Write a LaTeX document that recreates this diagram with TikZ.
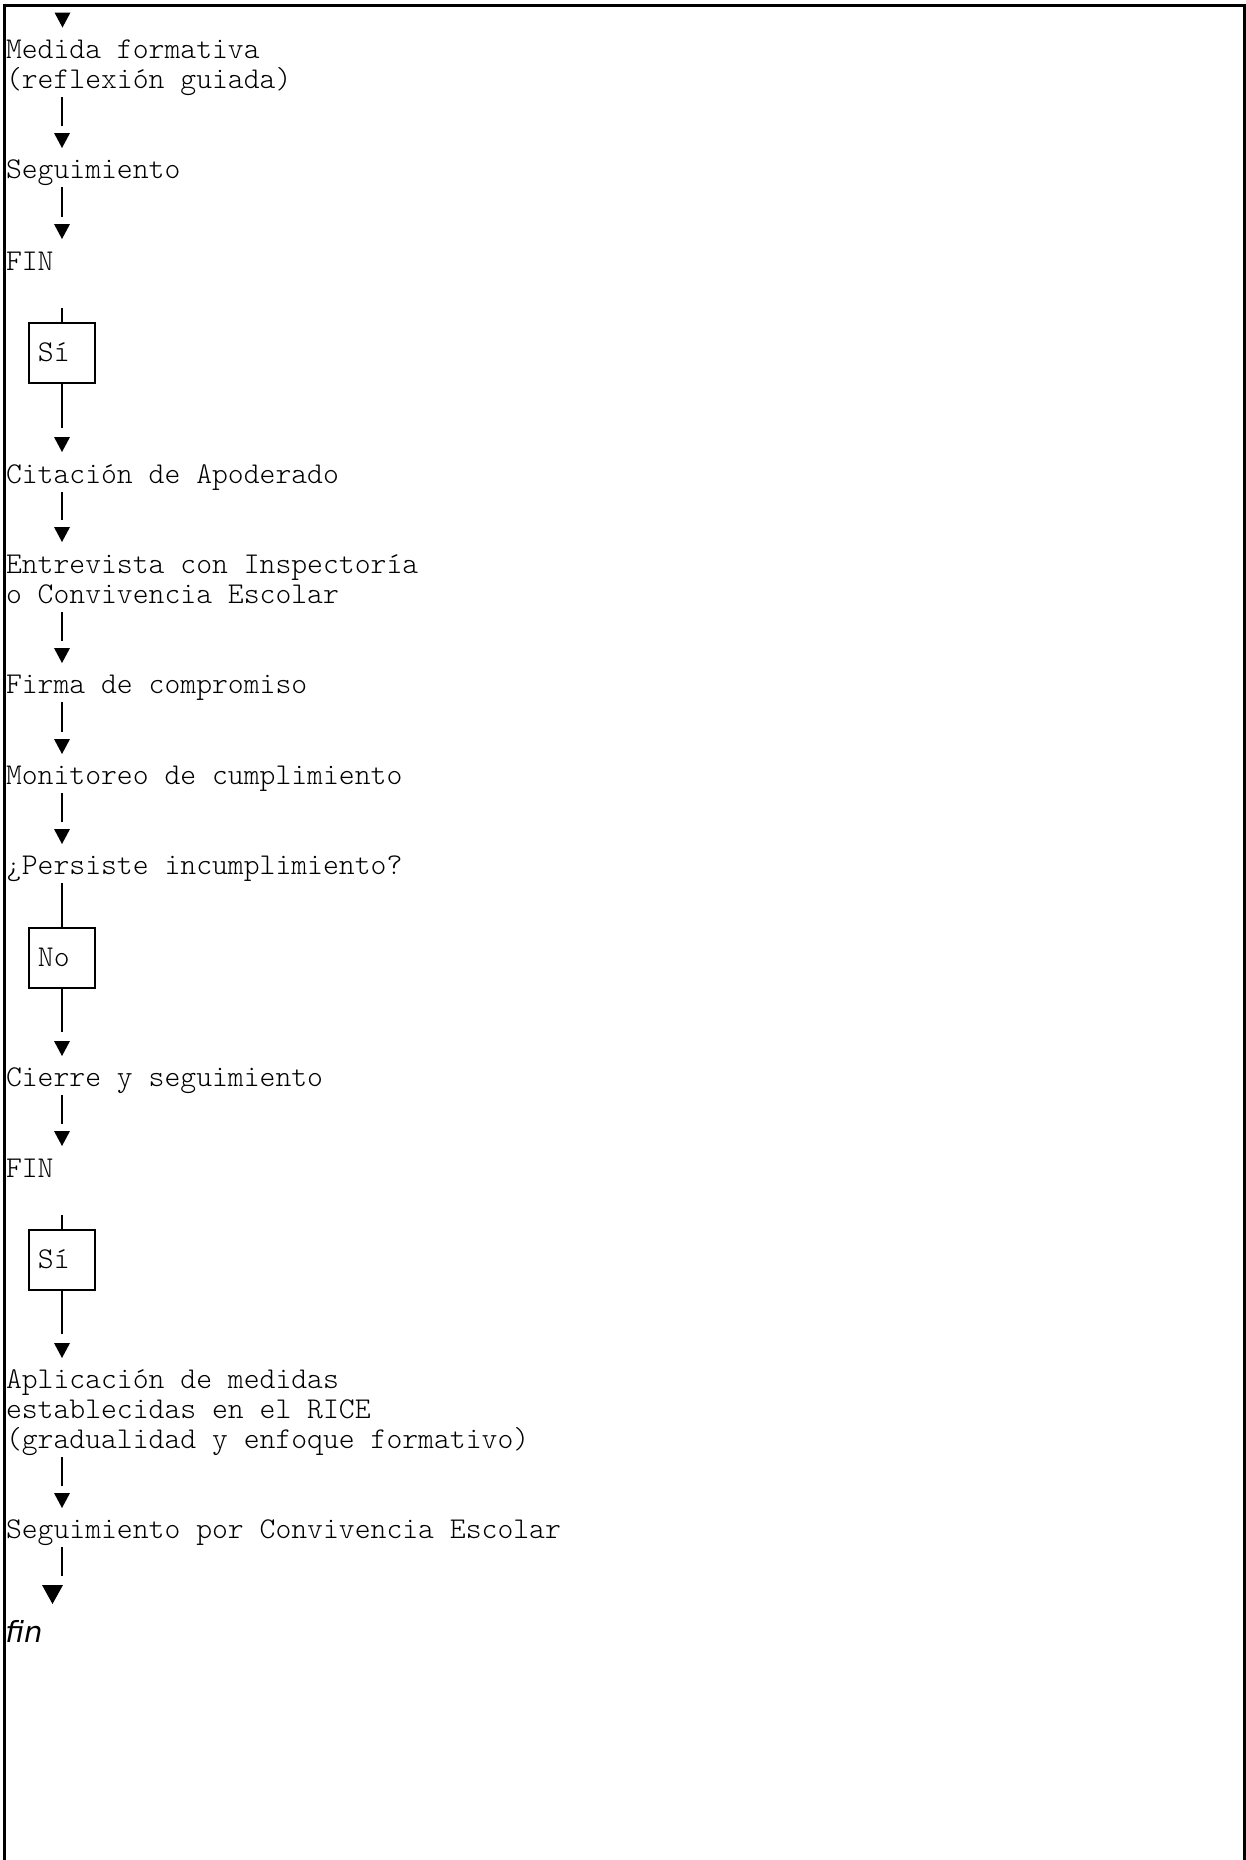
\documentclass[tikz,border=0pt]{standalone}
\usepackage{fontspec}
\newfontfamily\monofont{Latin Modern Mono Light}
\newfontfamily\finfont{DejaVu Sans}
\begin{document}
\begin{tikzpicture}[x=0.5pt,y=-0.5pt,
  txt/.style={anchor=base west, inner sep=0pt, outer sep=0pt, text depth=4.5pt,
    font=\monofont\fontsize{15.1pt}{15pt}\selectfont},
  downtri/.style={shape=rectangle, minimum width=8pt, minimum height=7.5pt, inner sep=0pt, outer sep=0pt,
    path picture={\fill (path picture bounding box.north west) -- (path picture bounding box.north east) -- (path picture bounding box.south) -- cycle;}},
  stem/.style={line width=0.85pt, shorten >=3.5pt},
  decbox/.style={draw, line width=1pt, minimum width=33pt, minimum height=30pt, inner sep=0pt,
    text height=8pt, text depth=0pt, font=\monofont\fontsize{15.1pt}{15pt}\selectfont},
  frame/.style={line width=1.25pt}
]
\useasboundingbox (0,0) rectangle (1246,1860);
\draw[frame] (4.5,1860) -- (4.5,5.5) -- (1244.5,5.5) -- (1244.5,1860);

% top
\node[downtri] (t0) at (62.5,20) {};
\node[txt] (medida) at (6,88) {\vbox{\hbox{Medida formativa}\hbox{(reflexión guiada)}}};
\node[downtri] (t1) at (62,140.5) {};
\node[txt] (seg1) at (6,178) {Seguimiento};
\node[downtri] (t2) at (62,231.5) {};
\node[txt] (fin1) at (6,270) {FIN};
\coordinate (c1) at (62,308);
\node[decbox] (si1) at (62,353) {\makebox[24pt][l]{Sí}};
\node[downtri] (t3) at (62,444.5) {};
\node[txt] (cita) at (6,483) {Citación de Apoderado};
\node[downtri] (t4) at (62,534.5) {};
\node[txt] (entre) at (6,603) {\vbox{\hbox{Entrevista con Inspectoría}\hbox{o Convivencia Escolar}}};
\node[downtri] (t5) at (62,655.5) {};
\node[txt] (firma) at (6,693) {Firma de compromiso};
\node[downtri] (t6) at (62,746.5) {};
\node[txt] (moni) at (6,784) {Monitoreo de cumplimiento};
\node[downtri] (t7) at (62,836.5) {};
\node[txt] (pers) at (6,874) {¿Persiste incumplimiento?};
\node[decbox] (nobox) at (62,958) {\makebox[24pt][l]{No}};
\node[downtri] (t8) at (62,1048.5) {};
\node[txt] (cierre) at (6,1086) {Cierre y seguimiento};
\node[downtri] (t9) at (62,1138.5) {};
\node[txt] (fin2) at (6,1177) {FIN};
\coordinate (c2) at (62,1215);
\node[decbox] (si2) at (62,1260) {\makebox[24pt][l]{Sí}};
\node[downtri] (t10) at (62,1350.5) {};
\node[txt] (aplic) at (6,1448) {\vbox{\hbox{Aplicación de medidas}\hbox{establecidas en el RICE}\hbox{(gradualidad y enfoque formativo)}}};
\node[downtri] (t11) at (62,1500.5) {};
\node[txt] (segconv) at (6,1538) {Seguimiento por Convivencia Escolar};
\node[downtri, minimum width=10.5pt, minimum height=9.5pt] (t12) at (52.5,1594.5) {};
\node[anchor=base west, inner sep=0pt, font=\finfont\itshape\fontsize{14.5pt}{17pt}\selectfont] (finend) at (5,1642) {fin};

% connectors
\draw[stem] (t1 |- medida.south) -- (t1.north);
\draw[stem] (t2 |- seg1.south) -- (t2.north);
\draw[stem, shorten >=0pt] (c1) -- (si1.north);
\draw[stem, shorten >=4.5pt] (si1.south) -- (t3.north);
\draw[stem] (t4 |- cita.south) -- (t4.north);
\draw[stem] (t5 |- entre.south) -- (t5.north);
\draw[stem] (t6 |- firma.south) -- (t6.north);
\draw[stem] (t7 |- moni.south) -- (t7.north);
\draw[stem, shorten >=0pt] (nobox |- pers.south) -- (nobox.north);
\draw[stem, shorten >=4.5pt] (nobox.south) -- (t8.north);
\draw[stem] (t9 |- cierre.south) -- (t9.north);
\draw[stem, shorten >=0pt] (c2) -- (si2.north);
\draw[stem, shorten >=4.5pt] (si2.south) -- (t10.north);
\draw[stem] (t11 |- aplic.south) -- (t11.north);
\draw[stem, shorten >=4.5pt] (t11 |- segconv.south) -- (t11 |- t12.north);
\end{tikzpicture}
\end{document}
